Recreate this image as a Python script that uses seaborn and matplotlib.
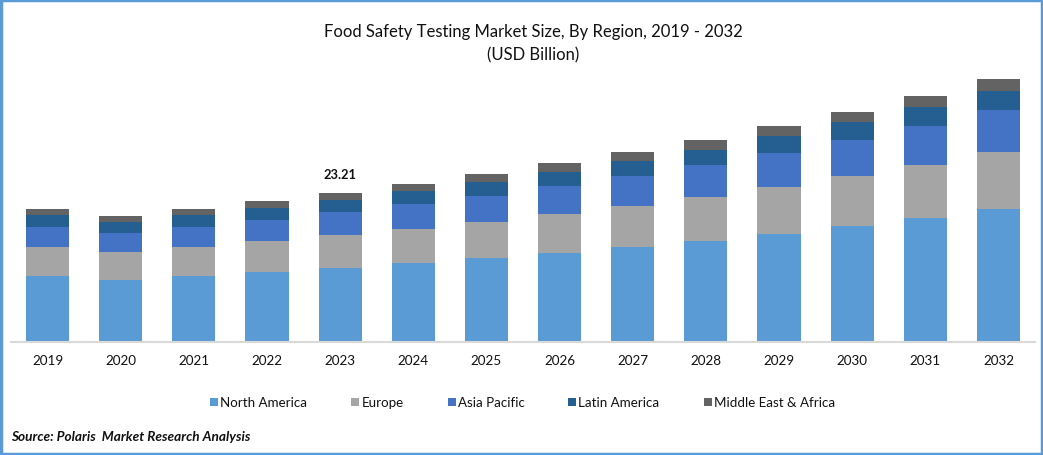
import matplotlib
matplotlib.use("Agg")
import matplotlib.pyplot as plt
from matplotlib.patches import Rectangle
import numpy as np
import pandas as pd
import seaborn as sns

years = [str(y) for y in range(2019, 2033)]
north_america = [10.28, 9.66, 10.28, 10.90, 11.53, 12.31, 13.08, 13.86, 14.80, 15.73, 16.82, 18.07, 19.31, 20.72]
europe = [4.52, 4.36, 4.52, 4.83, 5.14, 5.30, 5.61, 6.07, 6.39, 6.85, 7.32, 7.79, 8.26, 8.88]
asia_pacific = [3.12, 2.96, 3.12, 3.27, 3.58, 3.89, 4.05, 4.36, 4.67, 4.98, 5.30, 5.61, 6.07, 6.54]
latin_america = [1.87, 1.71, 1.87, 1.87, 1.87, 2.02, 2.18, 2.18, 2.34, 2.34, 2.65, 2.80, 2.96, 2.96]
mea = [0.93, 0.93, 0.93, 1.09, 1.09, 1.09, 1.25, 1.40, 1.40, 1.56, 1.56, 1.56, 1.71, 1.87]
regions = ["North America", "Europe", "Asia Pacific", "Latin America", "Middle East & Africa"]
series = [north_america, europe, asia_pacific, latin_america, mea]
colors = ["#5B9BD5", "#A5A5A5", "#4472C4", "#255E91", "#636363"]

sns.set_theme(style="white")
plt.rcParams["font.family"] = ["Lato", "DejaVu Sans"]
W, H = 1043, 456
fig = plt.figure(figsize=(W / 100, H / 100), dpi=100, facecolor="white")
ax = fig.add_axes([11 / W, 1 - 343 / H, 1024 / W, 300 / H])

bottom = np.zeros(len(years))
for name, vals, c in zip(regions, series, colors):
    df = pd.DataFrame({"year": years, "value": vals})
    sns.barplot(data=df, x="year", y="value", ax=ax, color=c, width=0.59,
                bottom=bottom, saturation=1, label=name, errorbar=None, linewidth=0)
    bottom = bottom + np.array(vals)

handles, labels = ax.get_legend_handles_labels()
if ax.get_legend() is not None:
    ax.get_legend().remove()

ax.set_xlim(-0.5, 13.5)
ax.set_ylim(0, 300 / 6.42)
ax.set_xlabel("")
ax.set_ylabel("")
ax.set_yticks([])
for s in ["top", "left", "right"]:
    ax.spines[s].set_visible(False)
ax.spines["bottom"].set_color("#D9D9D9")
ax.spines["bottom"].set_linewidth(1.5)
ax.tick_params(axis="x", length=0, pad=9, labelsize=9.7, labelcolor="#111111")

ax.text(4, bottom[4] + 1.95, "23.21", ha="center", va="bottom", fontsize=9.3,
        fontweight="bold", color="#111111")

fig.text(533.5 / W, 1 - 32.5 / H, "Food Safety Testing Market Size, By Region, 2019 - 2032",
         ha="center", va="center", fontsize=12, color="#111111")
fig.text(533.5 / W, 1 - 55.5 / H, "(USD Billion)", ha="center", va="center", fontsize=12, color="#111111")

fig.legend(handles, labels, ncol=5, loc="center", bbox_to_anchor=(522.5 / W, 1 - 403.5 / H),
           frameon=False, fontsize=9.6, handlelength=0.6, handleheight=0.6,
           handletextpad=0.15, columnspacing=3.3, labelcolor="#111111")

fig.text(11 / W, 1 - 437 / H, "Source: Polaris  Market Research Analysis", ha="left", va="center",
         fontsize=9.8, fontweight="bold", style="italic", color="#111111")

fig.add_artist(Rectangle((1 / W, 1 / H), 1 - 2 / W, 1 - 2 / H, transform=fig.transFigure,
                         fill=False, edgecolor="#5B9BD5", linewidth=2.5))
fig.savefig("out.png", dpi=100)
